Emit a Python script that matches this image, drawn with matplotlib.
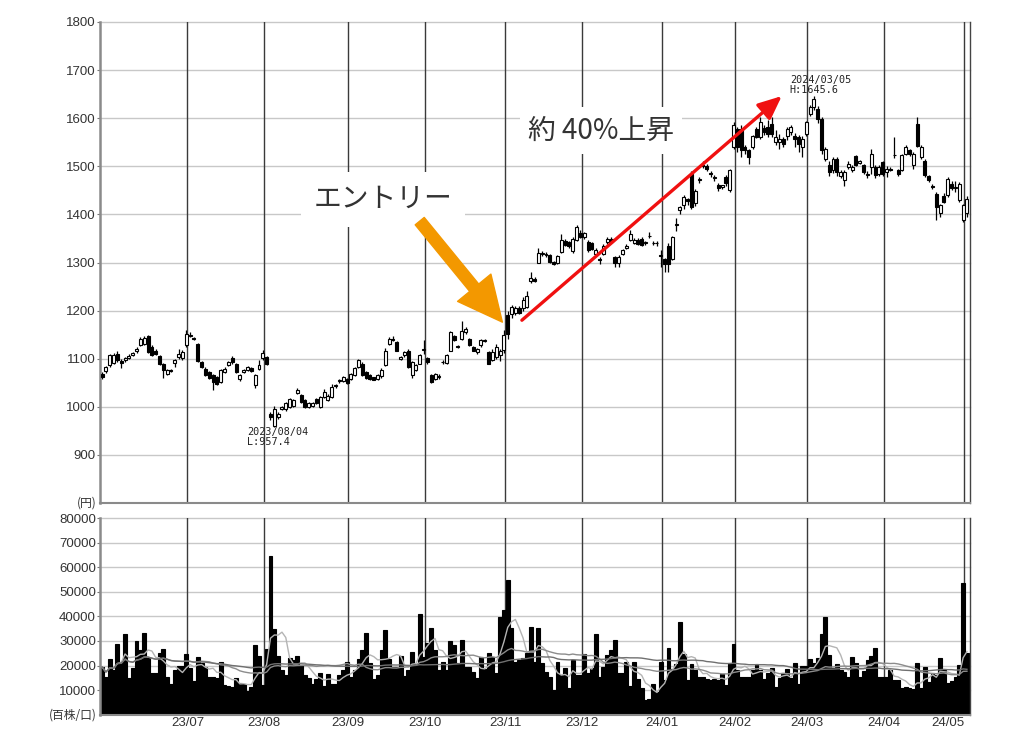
import numpy as np
import pandas as pd
import matplotlib
matplotlib.use('Agg')
import matplotlib.pyplot as plt

# ---------------- data ----------------
month_labels = ['23/06', '23/07', '23/08', '23/09', '23/10', '23/11', '23/12',
                '24/01', '24/02', '24/03', '24/04', '24/05']
days_per_month = [22, 20, 22, 20, 21, 20, 21, 19, 19, 20, 21, 2]

opens = [
    1068, 1075, 1086, 1092, 1110, 1096, 1098, 1102, 1108, 1116, 1128, 1130, 1148, 1124, 1117, 1105, 1088, 1068, 1076, 1091, 1103, 1102,
    1128, 1148, 1143, 1131, 1093, 1079, 1072, 1066, 1061, 1052, 1072, 1086, 1102, 1090, 1058, 1072, 1076, 1081, 1045, 1079,
    1102, 1104, 984, 960, 978, 995, 995, 1000, 1001, 1028, 1024, 1014, 1000, 1002, 1016, 1000, 1020, 1014, 1020, 1043, 1053, 1054,
    1057, 1057, 1067, 1083, 1090, 1072, 1066, 1061, 1057, 1063, 1086, 1131, 1140, 1134, 1100, 1107, 1117, 1066, 1076, 1090,
    1118, 1101, 1066, 1058, 1062, 1093, 1091, 1117, 1148, 1126, 1141, 1155, 1141, 1124, 1113, 1128, 1138, 1114, 1097, 1103, 1107,
    1118, 1190, 1192, 1196, 1205, 1205, 1208, 1262, 1266, 1300, 1318, 1316, 1315, 1302, 1298, 1322, 1345, 1342, 1323, 1347,
    1362, 1352, 1342, 1340, 1318, 1308, 1318, 1342, 1349, 1311, 1298, 1318, 1330, 1347, 1340, 1347, 1349, 1340, 1355, 1340, 1341,
    1316, 1308, 1334, 1308, 1378, 1409, 1420, 1431, 1483, 1423, 1471, 1503, 1501, 1486, 1476, 1462, 1458, 1478, 1450,
    1540, 1578, 1578, 1540, 1533, 1540, 1578, 1561, 1580, 1581, 1588, 1550, 1550, 1557, 1564, 1571, 1564, 1561, 1540,
    1568, 1609, 1623, 1619, 1599, 1516, 1502, 1492, 1516, 1480, 1471, 1499, 1492, 1521, 1506, 1502, 1485, 1499, 1499, 1485,
    1509, 1488, 1495, 1523, 1492, 1492, 1526, 1534, 1502, 1588, 1519, 1512, 1479, 1460, 1443, 1402, 1438, 1440, 1464, 1454, 1430,
    1388, 1402,
]
highs = [
    1072, 1085, 1110, 1112, 1115, 1100, 1104, 1110, 1114, 1124, 1146, 1148, 1150, 1128, 1120, 1108, 1092, 1078, 1078, 1100, 1120, 1118,
    1160, 1155, 1146, 1133, 1095, 1082, 1074, 1068, 1063, 1078, 1082, 1096, 1106, 1092, 1069, 1079, 1085, 1083, 1069, 1098,
    1118, 1106, 990, 1002, 990, 1002, 1010, 1018, 1016, 1040, 1026, 1016, 1009, 1010, 1019, 1022, 1036, 1026, 1048, 1048, 1058, 1064,
    1060, 1070, 1082, 1100, 1093, 1074, 1068, 1062, 1068, 1080, 1122, 1146, 1148, 1136, 1106, 1116, 1120, 1095, 1090, 1110,
    1138, 1103, 1068, 1070, 1068, 1098, 1110, 1158, 1150, 1128, 1179, 1165, 1143, 1126, 1122, 1140, 1140, 1116, 1120, 1130, 1120,
    1160, 1200, 1212, 1210, 1210, 1228, 1240, 1280, 1270, 1330, 1324, 1322, 1318, 1304, 1316, 1360, 1348, 1345, 1352, 1378,
    1368, 1364, 1346, 1342, 1330, 1312, 1338, 1352, 1352, 1313, 1315, 1328, 1338, 1368, 1350, 1350, 1352, 1345, 1364, 1344, 1345,
    1325, 1310, 1340, 1356, 1392, 1418, 1440, 1434, 1490, 1452, 1478, 1510, 1504, 1490, 1482, 1465, 1462, 1482, 1494,
    1592, 1582, 1585, 1545, 1536, 1566, 1582, 1602, 1585, 1596, 1602, 1575, 1568, 1560, 1582, 1585, 1570, 1565, 1562,
    1595, 1628, 1645.6, 1625, 1602, 1540, 1510, 1520, 1520, 1492, 1492, 1510, 1502, 1524, 1514, 1505, 1490, 1535, 1502, 1502,
    1512, 1500, 1498, 1560, 1495, 1526, 1545, 1537, 1530, 1602, 1545, 1515, 1482, 1464, 1446, 1422, 1445, 1478, 1470, 1470, 1468,
    1422, 1438,
]
lows = [
    1058, 1070, 1082, 1088, 1094, 1080, 1094, 1100, 1105, 1112, 1126, 1128, 1112, 1105, 1108, 1086, 1060, 1066, 1072, 1082, 1100, 1098,
    1125, 1145, 1138, 1094, 1080, 1064, 1058, 1034, 1045, 1050, 1070, 1084, 1090, 1070, 1054, 1070, 1074, 1072, 1040, 1077,
    1098, 1086, 972, 957.4, 975, 993, 992, 998, 1000, 1026, 1008, 998, 998, 1000, 1005, 998, 1018, 1012, 1018, 1040, 1050, 1052,
    1048, 1055, 1065, 1080, 1065, 1058, 1055, 1055, 1055, 1060, 1084, 1128, 1136, 1115, 1098, 1104, 1080, 1060, 1074, 1088,
    1110, 1090, 1050, 1055, 1058, 1090, 1088, 1115, 1136, 1122, 1138, 1152, 1126, 1115, 1110, 1125, 1134, 1088, 1095, 1100, 1095,
    1112, 1140, 1185, 1190, 1192, 1200, 1205, 1258, 1260, 1298, 1314, 1312, 1298, 1294, 1296, 1320, 1335, 1330, 1320, 1345,
    1350, 1348, 1322, 1325, 1315, 1296, 1315, 1338, 1340, 1290, 1290, 1315, 1328, 1345, 1338, 1336, 1335, 1336, 1350, 1336, 1335,
    1290, 1280, 1280, 1305, 1366, 1400, 1412, 1420, 1412, 1418, 1466, 1496, 1490, 1478, 1470, 1448, 1452, 1460, 1446,
    1535, 1530, 1520, 1526, 1505, 1536, 1558, 1556, 1565, 1560, 1560, 1545, 1535, 1540, 1555, 1565, 1540, 1530, 1520,
    1562, 1605, 1618, 1590, 1525, 1510, 1480, 1486, 1480, 1475, 1460, 1495, 1488, 1500, 1504, 1485, 1476, 1485, 1476, 1480,
    1480, 1478, 1490, 1518, 1480, 1490, 1524, 1522, 1495, 1540, 1515, 1478, 1468, 1452, 1388, 1395, 1424, 1436, 1450, 1446, 1426,
    1385, 1395,
]
closes = [
    1062, 1082, 1107, 1108, 1097, 1092, 1101, 1106, 1111, 1120, 1141, 1143, 1114, 1107, 1110, 1088, 1076, 1077, 1074, 1098, 1110, 1114,
    1152, 1150, 1141, 1095, 1083, 1066, 1060, 1052, 1048, 1076, 1079, 1093, 1093, 1072, 1067, 1077, 1083, 1074, 1067, 1086,
    1112, 1088, 979, 996, 986, 1000, 1007, 1017, 1014, 1034, 1010, 1000, 1007, 1008, 1007, 1020, 1031, 1022, 1041, 1045, 1055, 1061,
    1050, 1068, 1080, 1097, 1067, 1060, 1057, 1056, 1066, 1076, 1117, 1141, 1139, 1117, 1103, 1114, 1083, 1093, 1086, 1107,
    1120, 1093, 1052, 1068, 1064, 1093, 1107, 1155, 1138, 1125, 1158, 1162, 1128, 1117, 1120, 1138, 1136, 1090, 1114, 1124, 1117,
    1150, 1152, 1208, 1205, 1195, 1222, 1230, 1268, 1262, 1320, 1320, 1318, 1301, 1297, 1313, 1347, 1337, 1334, 1349, 1373,
    1352, 1362, 1325, 1328, 1326, 1305, 1335, 1349, 1342, 1298, 1311, 1326, 1335, 1360, 1347, 1338, 1337, 1343, 1356, 1341, 1340,
    1314, 1297, 1296, 1353, 1380, 1416, 1437, 1427, 1416, 1448, 1473, 1500, 1494, 1483, 1477, 1455, 1461, 1465, 1492,
    1585, 1540, 1533, 1533, 1519, 1564, 1561, 1592, 1572, 1568, 1568, 1561, 1557, 1547, 1578, 1582, 1557, 1547, 1557,
    1592, 1623, 1640, 1599, 1533, 1537, 1488, 1516, 1488, 1488, 1488, 1505, 1499, 1502, 1512, 1488, 1481, 1526, 1481, 1499,
    1485, 1495, 1492, 1524, 1485, 1523, 1541, 1526, 1526, 1543, 1540, 1481, 1472, 1458, 1416, 1419, 1426, 1474, 1454, 1458, 1464,
    1419, 1433,
]
volumes = [
    19400, 15300, 22500, 18000, 28900, 21400, 32700, 15000, 19000, 29900, 26200, 33300, 23200, 17000, 17000, 25200, 26900, 15300, 12500, 18000, 20000, 20000,
    24800, 19100, 13600, 23500, 21000, 19400, 15300, 15300, 14900, 21400, 12100, 11600, 11200, 14900, 12800, 12500, 9800, 11200, 28200, 23900,
    12000, 26900, 64700, 34700, 23700, 18000, 16000, 23200, 22100, 23700, 20400, 16000, 14900, 12300, 14400, 17000, 11800, 16700, 12600, 12300, 16000, 18000,
    21400, 15300, 18300, 22800, 26200, 33400, 21000, 14700, 16300, 26500, 34300, 22600, 19500, 19500, 23800, 15700, 18200, 25600, 20600, 41200,
    23600, 29000, 35100, 26300, 18200, 21500, 18200, 30100, 28300, 20900, 30600, 19500, 19200, 17500, 14800, 23300, 18400, 25200, 23600, 16800, 39800,
    42800, 54700, 35100, 21500, 22200, 22900, 25200, 35800, 21500, 35100, 20900, 17500, 15400, 10000, 21500, 16100, 18800, 10700, 22200, 16100,
    16100, 24900, 16800, 18800, 32800, 15400, 19500, 24300, 26300, 30400, 16800, 16800, 21500, 11500, 21400, 14700, 11000, 5800, 6500, 12600, 9200,
    21400, 14000, 27100, 18700, 20800, 37700, 24800, 14000, 20800, 18000, 15300, 15300, 14700, 14200, 14700, 14200, 16400, 12100, 20900,
    28700, 18200, 15400, 15400, 15400, 18200, 20600, 18200, 14400, 16800, 19100, 11400, 14800, 16800, 18400, 14800, 20900, 12500, 19800,
    19800, 22600, 20900, 22900, 32800, 39600, 24300, 18800, 20600, 18200, 17500, 15400, 23600, 20900, 15200, 17900, 22200, 23800, 27000, 15400,
    15400, 15200, 18200, 14100, 14000, 10700, 11400, 11000, 10300, 21100, 10700, 19200, 13400, 16800, 16000, 22900, 18200, 12700, 13800, 15400, 20200,
    53700, 25200,
]
ma_windows = [5, 25, 75]

low_label = '2023/08/04\nL:957.4'
high_label = '2024/03/05\nH:1645.6'
entry_text = 'エントリー'
rise_text = '約 40%上昇'

# ---------------- derived ----------------
o = np.array(opens, float); h = np.array(highs, float)
l = np.array(lows, float); c = np.array(closes, float)
v = np.array(volumes, float)
n = len(c)
idx = np.arange(n)
month_start = np.concatenate([[0], np.cumsum(days_per_month)[:-1]])

cjk = ['Noto Sans CJK JP', 'DejaVu Sans']
numfont = ['Liberation Sans Narrow', 'Liberation Sans', 'DejaVu Sans']
plt.rcParams['font.family'] = cjk

fig = plt.figure(figsize=(10.24, 7.44), dpi=100)
L, W = 100 / 1024, 870 / 1024
axp = fig.add_axes([L, 1 - 503 / 744, W, (503 - 22) / 744])
axv = fig.add_axes([L, 1 - 714.6 / 744, W, (714.6 - 518.3) / 744])

xlim = (-0.55, n - 0.2)
grid_c = '#c8c8c8'
vline_c = '#3a3a3a'
tick_c = '#333333'

for ax in (axp, axv):
    ax.set_xlim(*xlim)
    ax.set_facecolor('white')
    ax.spines['top'].set_visible(False)
    ax.spines['left'].set_color('#8a8a8a')
    ax.spines['left'].set_linewidth(1.8)
    ax.spines['bottom'].set_color('#8a8a8a')
    ax.spines['bottom'].set_linewidth(1.5)
    ax.spines['right'].set_color('#444444')
    ax.spines['right'].set_linewidth(1.0)
    for ms in month_start[1:]:
        ax.axvline(ms + 0.3, color=vline_c, lw=1.0, zorder=1)
    ax.tick_params(axis='y', length=2, width=0.8, colors='#777777', pad=1,
                   labelcolor=tick_c, labelsize=9.5)
    ax.tick_params(axis='x', length=0)

# --- price panel ---
axp.set_ylim(800, 1800)
axp.set_yticks(np.arange(900, 1801, 100))
for t in np.arange(900, 1801, 100):
    axp.axhline(t, color=grid_c, lw=1.0, zorder=0.5, clip_on=False)
axp.set_xticks([])
for lab in axp.get_yticklabels():
    lab.set_fontfamily(numfont)

up = c >= o
body_bot = np.minimum(o, c)
body_h = np.maximum(np.abs(c - o), 0.8)
axp.vlines(idx, l, h, color='black', lw=0.9, zorder=2)
axp.bar(idx, body_h, bottom=body_bot, width=0.78,
        color=np.where(up, 'white', 'black'), edgecolor='black',
        linewidth=0.8, zorder=3)

axp.text(-0.004, 0.0, '(円)', transform=axp.transAxes, ha='right', va='center',
         fontsize=8.5, color=tick_c)

# annotations for extremes
i_low = int(np.argmin(l)); i_high = int(np.argmax(h))
axp.annotate(low_label, xy=(i_low, l[i_low]), xytext=(-27, 0),
             textcoords='offset pixels', ha='left', va='top',
             fontsize=7.3, family=['DejaVu Sans Mono'], color='#222222',
             linespacing=1.0, zorder=5)
axp.annotate(high_label, xy=(i_high, h[i_high]), xytext=(-24, 1),
             textcoords='offset pixels', ha='left', va='bottom',
             fontsize=7.3, family=['DejaVu Sans Mono'], color='#222222',
             linespacing=1.0, zorder=5)

# entry label + orange arrow
axp.text(73.4, 1432, entry_text, ha='center', va='center', fontsize=20,
         color='#333333', zorder=6,
         bbox=dict(boxstyle='square,pad=0.45', fc='white', ec='none'))
axp.annotate('', xy=(104.6, 1176), xytext=(83.0, 1386),
             arrowprops=dict(arrowstyle='simple,head_length=1.6,head_width=1.55,tail_width=0.42',
                             mutation_scale=20, fc='#f39800', ec='#f39800',
                             shrinkA=0, shrinkB=0), zorder=7)

# rise label + red arrow
axp.text(130.4, 1574, rise_text, ha='center', va='center', fontsize=20,
         color='#333333', zorder=6,
         bbox=dict(boxstyle='square,pad=0.3', fc='white', ec='none'))
axp.annotate('', xy=(177.6, 1646), xytext=(109.7, 1180),
             arrowprops=dict(arrowstyle='-|>,head_length=0.95,head_width=0.42',
                             mutation_scale=15, color='#f01010', lw=2.4,
                             shrinkA=0, shrinkB=0), zorder=7)

# --- volume panel ---
axv.set_ylim(0, 80000)
axv.set_yticks(np.arange(10000, 80001, 10000))
for t in np.arange(10000, 80001, 10000):
    axv.axhline(t, color=grid_c, lw=1.0, zorder=0.5, clip_on=False)
for lab in axv.get_yticklabels():
    lab.set_fontfamily(numfont)
axv.bar(idx, v, width=1.0, color='black', edgecolor='black', linewidth=0.8, zorder=2)

vs = pd.Series(v)
ma_colors = ['#b4b4b4', '#8c8c8c', '#707070']
for w, col in zip(ma_windows, ma_colors):
    axv.plot(idx, vs.rolling(w, min_periods=1).mean().values, color=col, lw=1.0, zorder=3)

axv.set_xticks(month_start[1:] + 0.3)
axv.set_xticklabels(month_labels[1:])
for lab in axv.get_xticklabels():
    lab.set_fontfamily(numfont)
    lab.set_fontsize(9.5)
    lab.set_color(tick_c)
axv.get_xticklabels()[-1].set_horizontalalignment('right')
axv.get_xticklabels()[-1].set_x(month_start[-1] + 2)
axv.tick_params(axis='x', pad=2)

axv.text(-0.004, 0.0, '(百株/口)', transform=axv.transAxes, ha='right', va='center',
         fontsize=8.5, color=tick_c)

fig.savefig('out.png', dpi=100, facecolor='white')
